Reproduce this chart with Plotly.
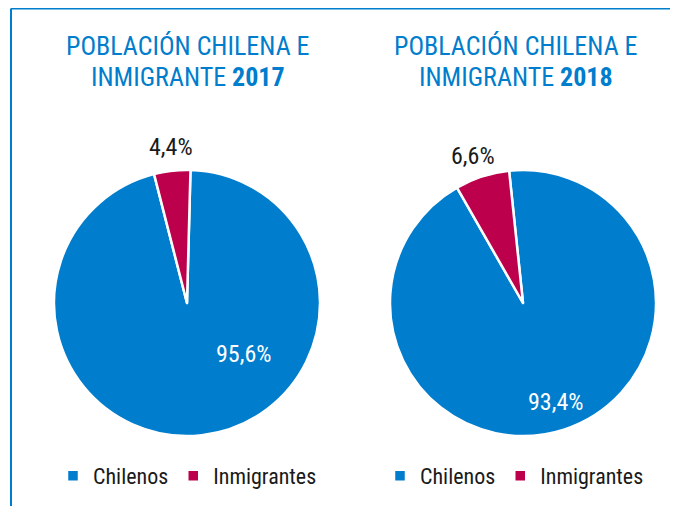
import plotly.graph_objects as go

labels = ["Chilenos", "Inmigrantes"]
years = ["2017", "2018"]
values_2017 = [95.6, 4.4]
values_2018 = [93.4, 6.6]

BLUE = "#007DCC"
RED = "#BD004B"
FONT = "Liberation Sans Narrow, Roboto Condensed, DejaVu Sans Condensed, sans-serif"
OFF = 8  # page body margin
W, H = 670, 498

def px(x):
    return (x - OFF) / W

def py(y):
    return 1 - (y - OFF) / H

fig = go.Figure()
domains = [[px(54), px(320)], [px(390), px(656)]]
ydom = [py(436), py(170)]
rotations = [1.5, -6]
for i, (vals, legend_name, suffix) in enumerate([(values_2017, "legend", ""), (values_2018, "legend2", "\u200b")]):
    fig.add_trace(go.Pie(
        labels=[l + suffix for l in labels], values=vals, sort=False, direction="clockwise",
        rotation=rotations[i],
        marker=dict(colors=[BLUE, RED], line=dict(color="white", width=2.5)),
        textinfo="none", hoverinfo="label+percent",
        domain=dict(x=domains[i], y=ydom), legend=legend_name, showlegend=True,
    ))

def fmt(v):
    return f"{v:.1f}".replace(".", ",") + "%"

def ann(x, y, text, size, color):
    return dict(x=px(x), y=py(y), xref="paper", yref="paper", showarrow=False,
                xanchor="center", yanchor="middle", text=text,
                font=dict(family=FONT, size=size, color=color))

annotations = []
for cx, year in [(188, years[0]), (516, years[1])]:
    annotations.append(ann(cx, 46, "POBLACIÓN CHILENA E", 26, BLUE))
    annotations.append(ann(cx, 77, f"INMIGRANTE <b>{year}</b>", 26, BLUE))

label_pos = [((243, 354), (171, 147)), ((555, 402), (473, 156))]
for vals, ((ix, iy), (ox, oy)) in zip([values_2017, values_2018], label_pos):
    annotations.append(ann(ix, iy, fmt(vals[0]), 24, "white"))
    annotations.append(ann(ox, oy, fmt(vals[1]), 24, "#1a1a1a"))

legend_common = dict(orientation="h", xanchor="left", yanchor="middle", y=py(476),
                     font=dict(family=FONT, size=22, color="#1a1a1a"), bgcolor="rgba(0,0,0,0)",
                     itemclick=False, itemdoubleclick=False, traceorder="normal")

fig.update_layout(
    width=W, height=H, autosize=False,
    margin=dict(l=0, r=0, t=0, b=0),
    paper_bgcolor="white", plot_bgcolor="white",
    annotations=annotations,
    legend=dict(x=px(53), **legend_common),
    legend2=dict(x=px(380), **legend_common),
    shapes=[
        dict(type="line", xref="paper", yref="paper", x0=px(11), x1=1, y0=py(8.5), y1=py(8.5),
             line=dict(color=BLUE, width=2)),
        dict(type="line", xref="paper", yref="paper", x0=px(11), x1=px(11), y0=py(8.5), y1=0,
             line=dict(color=BLUE, width=2)),
    ],
)

fig.write_html("out.html")
